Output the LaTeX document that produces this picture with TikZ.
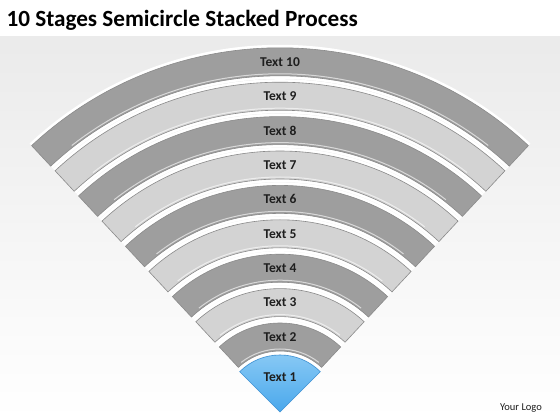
\documentclass[tikz,border=0pt]{standalone}
\usepackage{fontspec}
\setmainfont{Carlito}
\definecolor{bandDark}{HTML}{9E9E9E}
\definecolor{bandLight}{HTML}{D3D3D3}
\definecolor{bandEdge}{HTML}{8A8A8A}
\definecolor{stageBlue}{HTML}{4AA8EC}
\definecolor{stageBlueTop}{HTML}{8CCBF5}
\definecolor{stageBlueEdge}{HTML}{3B8FD2}
\definecolor{labelInk}{HTML}{1E1E1E}
\tikzset{
  bandlabel/.style={font=\bfseries\fontsize{13.5}{15}\selectfont,text=labelInk},
}
\begin{document}
\begin{tikzpicture}[x=1pt,y=1pt]
    \useasboundingbox (0,0) rectangle (560,420);
    % Fondo
    \fill[white] (0,0) rectangle (560,420);
    \shade[top color=gray!16,bottom color=white] (0,0) rectangle (560,383);
    \node[anchor=west,font=\bfseries\fontsize{23.2}{26}\selectfont] (title) at (3,400)
        {10 Stages Semicircle Stacked Process};

    % Bandas 2..10
    \begin{scope}[shift={(280,8)}]
    \foreach \k in {2,...,10} {
        \pgfmathsetmacro{\ri}{61+(\k-2)*34.4}
        \pgfmathsetmacro{\ro}{\ri+28}
        \pgfmathparse{mod(\k,2)==0 ? "bandDark" : "bandLight"}
        \edef\bandcol{\pgfmathresult}
        \fill[white] (47:\ri-3) arc[start angle=47,end angle=133,radius=\ri-3]
            -- (133:\ro+3) arc[start angle=133,end angle=47,radius=\ro+3] -- cycle;
        \draw[fill=\bandcol,draw=bandEdge,line width=0.6pt]
            (47:\ri) arc[start angle=47,end angle=133,radius=\ri]
            -- (133:\ro) arc[start angle=133,end angle=47,radius=\ro] -- cycle;
        \draw[white,opacity=0.6,line width=1pt]
            (52:\ri+2) arc[start angle=52,end angle=128,radius=\ri+2];
        \node[bandlabel] (t\k) at (90:\ri+14) {Text \k};
    }

    % Sector azul
    \shade[top color=stageBlueTop,bottom color=stageBlue,draw=stageBlueEdge,line width=0.6pt]
        (0,0) -- (45:57) arc[start angle=45,end angle=135,radius=57] -- cycle;
    \node[bandlabel] (t1) at (90:35) {Text 1};
    \end{scope}

    \node[font=\fontsize{10.5}{12}\selectfont,text=labelInk] (logo) at (521,12) {Your Logo};
\end{tikzpicture}
\end{document}
